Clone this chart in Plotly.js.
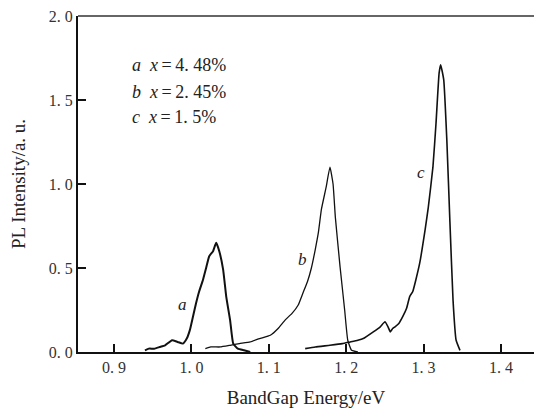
<!DOCTYPE html>
<html>
<head>
<meta charset="utf-8">
<script src="https://cdn.plot.ly/plotly-3.0.1.min.js"></script>
<style>html,body{margin:0;padding:0;background:#fff;}#chart{width:534px;height:412px;}</style>
</head>
<body>
<div id="chart"></div>
<script>
// Curve a: x = 4.48%
const aX = [0.940, 0.945, 0.952, 0.959, 0.966, 0.975, 0.982, 0.989, 0.994, 0.998, 1.002, 1.006, 1.010, 1.015, 1.019, 1.023, 1.028, 1.032, 1.036, 1.041, 1.045, 1.050, 1.054, 1.060, 1.068, 1.076];
const aY = [0.01, 0.02, 0.02, 0.03, 0.04, 0.07, 0.06, 0.05, 0.08, 0.13, 0.21, 0.29, 0.36, 0.43, 0.50, 0.57, 0.60, 0.65, 0.60, 0.49, 0.33, 0.19, 0.05, 0.02, 0.01, 0.00];
// Curve b: x = 2.45%
const bX = [1.018, 1.025, 1.037, 1.050, 1.062, 1.076, 1.088, 1.102, 1.112, 1.121, 1.130, 1.138, 1.144, 1.150, 1.155, 1.160, 1.164, 1.168, 1.174, 1.179, 1.183, 1.186, 1.192, 1.198, 1.202, 1.207, 1.215];
const bY = [0.02, 0.03, 0.03, 0.04, 0.05, 0.06, 0.08, 0.10, 0.14, 0.19, 0.23, 0.28, 0.35, 0.42, 0.50, 0.61, 0.71, 0.85, 0.98, 1.10, 1.00, 0.80, 0.51, 0.25, 0.07, 0.01, 0.00];
// Curve c: x = 1.5%
const cX = [1.147, 1.160, 1.179, 1.195, 1.205, 1.215, 1.222, 1.235, 1.244, 1.250, 1.254, 1.257, 1.260, 1.263, 1.268, 1.273, 1.278, 1.282, 1.286, 1.290, 1.295, 1.302, 1.306, 1.312, 1.316, 1.320, 1.322, 1.326, 1.330, 1.334, 1.338, 1.342, 1.347];
const cY = [0.02, 0.03, 0.04, 0.05, 0.06, 0.07, 0.08, 0.12, 0.15, 0.18, 0.15, 0.12, 0.14, 0.15, 0.17, 0.21, 0.26, 0.33, 0.36, 0.43, 0.53, 0.73, 0.86, 1.10, 1.36, 1.66, 1.71, 1.62, 1.26, 0.77, 0.31, 0.07, 0.01];

const xTicks = [0.9, 1.0, 1.1, 1.2, 1.3, 1.4];
const xTickText = ["0. 9", "1. 0", "1. 1", "1. 2", "1. 3", "1. 4"];
const yTicks = [0, 0.5, 1.0, 1.5, 2.0];
const yTickText = ["0. 0", "0. 5", "1. 0", "1. 5", "2. 0"];

const curveLabels = ["a", "b", "c"];
const curveLabelX = [0.989, 1.144, 1.297];
const curveLabelY = [0.28, 0.55, 1.07];
const legendLines = ["<i>a</i>\u00a0\u00a0<i>x</i>\u2009=\u20094. 48%", "<i>b</i>\u00a0\u00a0<i>x</i>\u2009=\u20092. 45%", "<i>c</i>\u00a0\u00a0<i>x</i>\u2009=\u20091. 5%"];
const legendY = [1.71, 1.55, 1.40];

const serif = "Liberation Serif, Times New Roman, serif";
const lineStyle = {color: "#111", width: 1.6, shape: "spline", smoothing: 0.4};

const traces = [
  {x: aX, y: aY, mode: "lines", line: Object.assign({}, lineStyle, {width: 2}), hoverinfo: "skip"},
  {x: bX, y: bY, mode: "lines", line: Object.assign({}, lineStyle, {width: 1.3}), hoverinfo: "skip"},
  {x: cX, y: cY, mode: "lines", line: Object.assign({}, lineStyle, {width: 1.6}), hoverinfo: "skip"}
];

const annotations = [];
for (let i = 0; i < curveLabels.length; i++) {
  annotations.push({x: curveLabelX[i], y: curveLabelY[i], xref: "x", yref: "y", text: "<i>" + curveLabels[i] + "</i>", showarrow: false, font: {family: serif, size: 17, color: "#222"}});
}
for (let i = 0; i < legendLines.length; i++) {
  annotations.push({x: 0.921, y: legendY[i], xref: "x", yref: "y", xanchor: "left", text: legendLines[i], showarrow: false, font: {family: serif, size: 18, color: "#222"}});
}

const layout = {
  width: 534, height: 412,
  margin: {l: 78, r: 0, t: 16, b: 60},
  paper_bgcolor: "#fff", plot_bgcolor: "#fff",
  showlegend: false,
  font: {family: serif, color: "#333", size: 15},
  xaxis: {
    range: [0.8535, 1.4426], tickvals: xTicks, ticktext: xTickText,
    ticks: "inside", ticklen: 8, tickwidth: 2, tickcolor: "#111",
    showline: true, linecolor: "#111", linewidth: 2, showgrid: false, zeroline: false,
    tickfont: {family: serif, size: 16, color: "#333"},
    title: {text: "BandGap Energy/eV", font: {family: serif, size: 19, color: "#222"}, standoff: 15}
  },
  yaxis: {
    range: [0, 2.0], tickvals: yTicks, ticktext: yTickText,
    ticks: "inside", ticklen: 8, tickwidth: 2, tickcolor: "#111",
    showline: true, linecolor: "#111", linewidth: 2, showgrid: false, zeroline: false,
    tickfont: {family: serif, size: 16, color: "#333"},
    title: {text: "PL Intensity/a. u.", font: {family: serif, size: 19, color: "#222"}, standoff: 18}
  },
  shapes: [{type: "line", xref: "paper", yref: "paper", x0: 0, x1: 1, y0: 1, y1: 1, line: {color: "#666", width: 2}}],
  annotations: annotations
};

Plotly.newPlot("chart", traces, layout, {staticPlot: true, displayModeBar: false});
</script>
</body>
</html>
